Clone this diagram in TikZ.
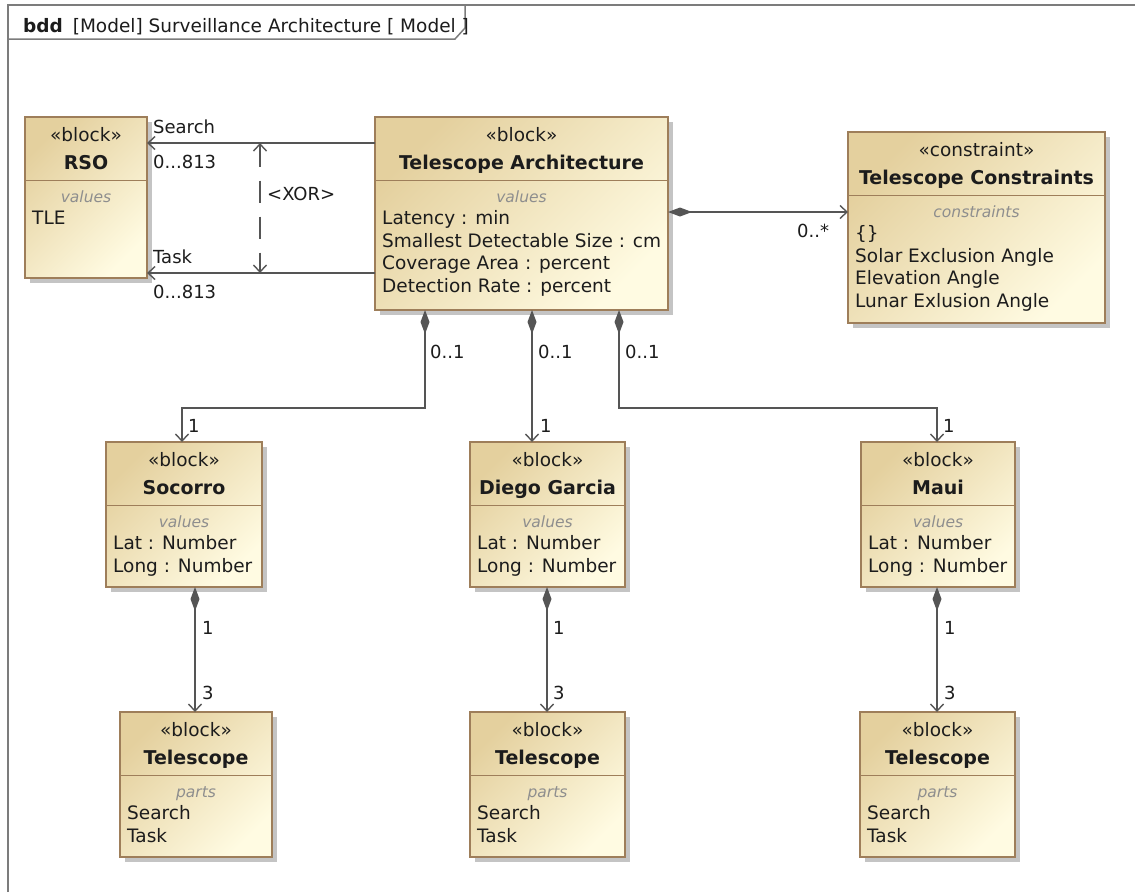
\documentclass[tikz,border=0pt]{standalone}
\usepackage{fontspec}
\setmainfont{DejaVu Sans}
\usetikzlibrary{arrows.meta,calc}
\definecolor{bordc}{HTML}{9E7E5A}
\definecolor{fillA}{HTML}{E4D09E}
\definecolor{fillB}{HTML}{FFFBE2}
\definecolor{linec}{HTML}{555555}
\definecolor{txtc}{HTML}{1C1C1C}
\definecolor{labc}{HTML}{8E8E8E}
\definecolor{framec}{HTML}{7C7C7C}
\definecolor{shadc}{HTML}{C4C4C4}
\newcommand\fnt{\fontsize{18.5}{22}\selectfont}
\newcommand\fntb{\fontsize{19}{22}\selectfont\bfseries}
\newcommand\fnti{\fontsize{15.5}{18}\selectfont\itshape}
\newcommand\fntl{\fontsize{18}{22}\selectfont}
\tikzset{
  blk/.style={draw=bordc, line width=1.3pt, top color=fillA, bottom color=fillB, shading angle=45, inner sep=0pt, outer sep=0pt},
  bord/.style={draw=bordc, line width=1.3pt},
  stxt/.style={anchor=base, font=\fnt, text=txtc, inner sep=0pt},
  ttxt/.style={anchor=base, font=\fntb, text=txtc, inner sep=0pt},
  ctxt/.style={anchor=base, font=\fnti, text=labc, inner sep=0pt},
  ltxt/.style={anchor=base west, font=\fnt, text=txtc, inner sep=0pt},
  lab/.style={anchor=base west, font=\fntl, text=txtc, inner sep=0pt},
  conn/.style={draw=linec, line width=1.4pt},
  assoc/.style={conn, -{Straight Barb[length=7pt,width=13pt]}},
  compo/.style={conn, {Diamond[length=24pt,width=9pt]}-{Straight Barb[length=7pt,width=13pt]}},
  xorl/.style={conn, dash pattern=on 22pt off 14pt, {Straight Barb[length=7pt,width=13pt]}-{Straight Barb[length=7pt,width=13pt]}},
}
\newcommand\ublock[8]{%
  \fill[shadc] ({#2+5},{#3+5}) rectangle ({#4+5},{#5+5});
  \node[blk, anchor=north west, minimum width={(#4)-(#2)}, minimum height={(#5)-(#3)}] (#1) at (#2,#3) {};
  \draw[bord] ($(#1.north west)+(0,63.5)$) -- ($(#1.north east)+(0,63.5)$);
  \node[stxt] (#1-st) at ($(#1.north)+(0,24.5)$) {«#6»};
  \node[ttxt] (#1-tt) at ($(#1.north)+(0,52.5)$) {#7};
  \node[ctxt] (#1-cl) at ($(#1.north)+(0,85.5)$) {#8};
}
\newcommand\ulines[2]{%
  \foreach \t [count=\i] in {#2} {
    \node[ltxt] (#1-l\i) at ($(#1.north west)+(7,{107.5+22.7*(\i-1)})$) {\t};
  }
}
\begin{document}
\begin{tikzpicture}[x=1pt,y=-1pt]
\useasboundingbox (0,0) rectangle (1135,892);
\fill[white] (0,0) rectangle (1135,892);
% frame
\draw[framec, line width=1.8pt] (8,892) -- (8,5) -- (1135,5);
\draw[framec, line width=1.5pt] (8,39) -- (455,39) -- (465,28) -- (465,5);
\node[anchor=base west, font=\fnt, text=txtc, inner sep=0pt] (hdr) at (23,32) {\textbf{bdd}\hspace{4pt} [Model] Surveillance Architecture [ Model ]};
% blocks
\ublock{RSO}{25}{117}{147}{278}{block}{RSO}{values}
\ulines{RSO}{TLE}
\ublock{TA}{375}{117}{668}{310}{block}{Telescope Architecture}{values}
\ulines{TA}{Latency : min, Smallest Detectable Size : cm, Coverage Area : percent, Detection Rate : percent}
\ublock{TC}{848}{132}{1105}{323}{constraint}{Telescope Constraints}{constraints}
\ulines{TC}{\{\}, Solar Exclusion Angle, Elevation Angle, Lunar Exlusion Angle}
\ublock{Soc}{106}{442}{262}{587}{block}{Socorro}{values}
\ulines{Soc}{Lat : Number, Long : Number}
\ublock{DG}{470}{442}{625}{587}{block}{Diego Garcia}{values}
\ulines{DG}{Lat : Number, Long : Number}
\ublock{Maui}{861}{442}{1015}{587}{block}{Maui}{values}
\ulines{Maui}{Lat : Number, Long : Number}
\ublock{T1}{120}{712}{272}{857}{block}{Telescope}{parts}
\ulines{T1}{Search, Task}
\ublock{T2}{470}{712}{625}{857}{block}{Telescope}{parts}
\ulines{T2}{Search, Task}
\ublock{T3}{860}{712}{1015}{857}{block}{Telescope}{parts}
\ulines{T3}{Search, Task}
% associations to RSO
\draw[assoc] ($(TA.north west)+(0,26)$) -- ($(RSO.north east)+(0,26)$);
\draw[assoc] ($(TA.north west)+(0,156)$) -- ($(RSO.north east)+(0,156)$);
\coordinate (xs) at ($(RSO.north east)+(113,26)$);
\coordinate (xt) at ($(RSO.north east)+(113,156)$);
\draw[xorl] (xs) -- (xt);
\node[lab] (lsearch) at (153,133) {Search};
\node[lab] (lsm) at (153,168) {0...813};
\node[lab] (ltask) at (153,263) {Task};
\node[lab] (ltm) at (153,298) {0...813};
\node[lab] (lxor) at (267,200) {<XOR>};
% composition to constraints
\draw[compo] ($(TA.north east)+(0,95)$) -- ($(TC.north west)+(0,80)$);
\node[lab] (lcm) at (797,237) {0..*};
% compositions to sites
\draw[compo] ($(TA.south west)+(50,0)$) -- ++(0,98) -| ($(Soc.north west)+(76,0)$);
\draw[compo] ($(TA.south west)+(157,0)$) -- ($(DG.north west)+(62,0)$);
\draw[compo] ($(TA.south west)+(244,0)$) -- ++(0,98) -| ($(Maui.north west)+(76,0)$);
\node[lab] (m1a) at (430,358) {0..1};
\node[lab] (m2a) at (538,358) {0..1};
\node[lab] (m3a) at (625,358) {0..1};
\node[lab] (m1b) at (188,432) {1};
\node[lab] (m2b) at (540,432) {1};
\node[lab] (m3b) at (943,432) {1};
% compositions to telescopes
\draw[compo] ($(Soc.south west)+(89,0)$) -- ($(T1.north west)+(75,0)$);
\draw[compo] ($(DG.south west)+(77,0)$) -- ($(T2.north west)+(77,0)$);
\draw[compo] ($(Maui.south west)+(76,0)$) -- ($(T3.north west)+(77,0)$);
\node[lab] (n1a) at (202,634) {1};
\node[lab] (n2a) at (553,634) {1};
\node[lab] (n3a) at (944,634) {1};
\node[lab] (n1b) at (202,699) {3};
\node[lab] (n2b) at (553,699) {3};
\node[lab] (n3b) at (944,699) {3};
\end{tikzpicture}
\end{document}
